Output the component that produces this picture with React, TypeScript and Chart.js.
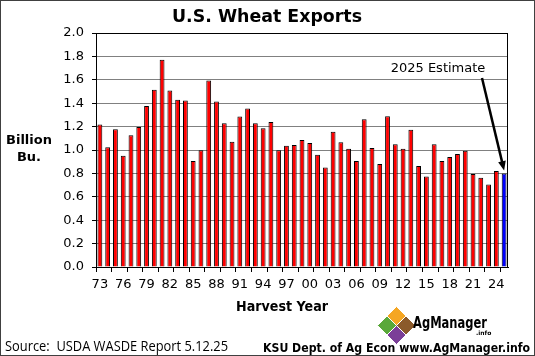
import React, { useEffect, useRef } from "react";
import { Chart, registerables } from "chart.js";

Chart.register(...registerables);

const years: string[] = [
  "73","74","75","76","77","78","79","80","81","82","83","84","85","86","87","88","89","90",
  "91","92","93","94","95","96","97","98","99","00","01","02","03","04","05","06","07","08",
  "09","10","11","12","13","14","15","16","17","18","19","20","21","22","23","24","25",
];

const exportsBillionBu: number[] = [
  1.217, 1.023, 1.177, 0.951, 1.126, 1.197, 1.377, 1.514, 1.771, 1.509, 1.429, 1.423, 0.906,
  0.997, 1.594, 1.414, 1.229, 1.071, 1.286, 1.354, 1.229, 1.186, 1.24, 0.997, 1.037, 1.043,
  1.086, 1.06, 0.96, 0.85, 1.157, 1.066, 1.01, 0.906, 1.263, 1.017, 0.88, 1.289, 1.05, 1.01,
  1.174, 0.863, 0.774, 1.05, 0.906, 0.94, 0.966, 0.994, 0.794, 0.763, 0.706, 0.82, 0.8,
];

const yTicks: number[] = [0, 0.2, 0.4, 0.6, 0.8, 1.0, 1.2, 1.4, 1.6, 1.8, 2.0];

const titleText = "U.S. Wheat Exports";
const yTitleLines = ["Billion", "Bu."];
const xTitleText = "Harvest Year";
const estimateText = "2025 Estimate";
const sourceText = "Source:  USDA WASDE Report 5.12.25";
const creditText = "KSU Dept. of Ag Econ www.AgManager.info";

const FONT = "'DejaVu Sans', Verdana, sans-serif";

const decorPlugin = {
  id: "decor",
  beforeDraw(chart: any) {
    const ctx = chart.ctx;
    ctx.save();
    ctx.fillStyle = "#ffffff";
    ctx.fillRect(0, 0, chart.width, chart.height);
    ctx.restore();
  },
  afterDraw(chart: any) {
    const ctx = chart.ctx as CanvasRenderingContext2D;
    const { left, right, top, bottom } = chart.chartArea;
    const xs = chart.scales.x;
    const ys = chart.scales.y;
    ctx.save();

    // plot border
    ctx.strokeStyle = "#000";
    ctx.lineWidth = 1;
    ctx.strokeRect(Math.round(left) + 0.5, Math.round(top) + 0.5, Math.round(right - left) - 1, Math.round(bottom - top));

    // outer border
    ctx.strokeStyle = "#404040";
    ctx.strokeRect(0.5, 0.5, chart.width - 1, chart.height - 1);

    ctx.fillStyle = "#000";
    ctx.textAlign = "center";
    ctx.textBaseline = "middle";

    // title
    ctx.font = `bold 18px ${FONT}`;
    ctx.fillText(titleText, 267, 17, 190);

    // y title
    ctx.font = `bold 13px ${FONT}`;
    ctx.fillText(yTitleLines[0], 29, 141, 47);
    ctx.fillText(yTitleLines[1], 29, 158);

    // x title
    ctx.font = `bold 14px ${FONT}`;
    ctx.fillText(xTitleText, 282, 307, 92);

    // annotation
    const lastIdx = years.length - 1;
    const ax = xs.getPixelForValue(lastIdx);
    const ay = ys.getPixelForValue(exportsBillionBu[lastIdx]) - 3;
    ctx.font = `13px ${FONT}`;
    ctx.fillText(estimateText, 438, 69);
    const sx = 482, sy = 78;
    ctx.strokeStyle = "#000";
    ctx.lineWidth = 2.5;
    const ang = Math.atan2(ay - sy, ax - sx);
    const hl = 10;
    ctx.beginPath();
    ctx.moveTo(sx, sy);
    ctx.lineTo(ax - Math.cos(ang) * hl * 0.8, ay - Math.sin(ang) * hl * 0.8);
    ctx.stroke();
    ctx.beginPath();
    ctx.moveTo(ax, ay);
    ctx.lineTo(ax - hl * Math.cos(ang - 0.4), ay - hl * Math.sin(ang - 0.4));
    ctx.lineTo(ax - hl * Math.cos(ang + 0.4), ay - hl * Math.sin(ang + 0.4));
    ctx.closePath();
    ctx.fill();

    // source
    ctx.textAlign = "left";
    ctx.font = `14px 'Open Sans', 'DejaVu Sans', sans-serif`;
    ctx.fillText(sourceText, 5, 347, 223);
    ctx.font = `bold 12px ${FONT}`;
    ctx.textAlign = "right";
    ctx.fillText(creditText, 530, 349, 267);

    // logo
    const d = (cx: number, cy: number, r: number, col: string) => {
      ctx.beginPath();
      ctx.moveTo(cx, cy - r);
      ctx.lineTo(cx + r, cy);
      ctx.lineTo(cx, cy + r);
      ctx.lineTo(cx - r, cy);
      ctx.closePath();
      ctx.fillStyle = col;
      ctx.fill();
      ctx.strokeStyle = "#fff";
      ctx.lineWidth = 1;
      ctx.stroke();
    };
    d(396.5, 316, 9.5, "#f5a623");
    d(387, 325.5, 9.5, "#5aa83a");
    d(406, 325.5, 9.5, "#8b5a2b");
    d(396.5, 335, 9.5, "#7b3f98");
    ctx.fillStyle = "#000";
    ctx.textAlign = "left";
    ctx.font = `bold 15px ${FONT}`;
    ctx.fillText("AgManager", 413, 324, 74);
    ctx.font = `bold 6px ${FONT}`;
    ctx.fillText(".info", 476, 333);

    ctx.restore();
  },
};

export default function App() {
  const ref = useRef<HTMLCanvasElement | null>(null);
  useEffect(() => {
    if (!ref.current) return;
    const colors = years.map((_, i) => (i === years.length - 1 ? "#0000ff" : "#ff0000"));
    const chart = new Chart(ref.current, {
      type: "bar",
      data: {
        labels: years,
        datasets: [
          {
            data: exportsBillionBu,
            backgroundColor: colors,
            borderColor: "#000",
            borderWidth: 1,
            barPercentage: 0.62,
            categoryPercentage: 1,
          },
        ],
      },
      options: {
        responsive: false,
        animation: false,
        layout: { padding: { top: 33, right: 27, left: 0, bottom: 0 } },
        plugins: { legend: { display: false }, tooltip: { enabled: false }, title: { display: false } },
        scales: {
          x: {
            grid: {
              drawOnChartArea: false,
              tickLength: 5,
              tickColor: (c: any) => (c.index % 2 === 0 ? "#000" : "rgba(0,0,0,0)"),
            },
            border: { display: true, color: "#000" },
            ticks: {
              autoSkip: false,
              maxRotation: 0,
              minRotation: 0,
              padding: 5,
              color: "#000",
              font: { family: FONT, size: 13 },
              callback: (_v: any, i: number) => (i % 3 === 0 ? years[i] : ""),
            },
            afterFit: (s: any) => {
              s.height = 89;
            },
          },
          y: {
            min: 0,
            max: 2,
            afterBuildTicks: (s: any) => {
              s.ticks = yTicks.map((v) => ({ value: v }));
            },
            grid: { color: "#808080", tickLength: 4, tickColor: "#000" },
            border: { display: true, color: "#000" },
            ticks: {
              padding: 8,
              color: "#000",
              font: { family: FONT, size: 13 },
              callback: (v: any) => Number(v).toFixed(1),
            },
            afterFit: (s: any) => {
              s.width = 96;
            },
          },
        },
      },
      plugins: [decorPlugin],
    });
    return () => chart.destroy();
  }, []);
  return (
    <div style={{ position: "fixed", left: 0, top: 0, width: 535, height: 356 }}>
      <canvas ref={ref} width={535} height={356} />
    </div>
  );
}
